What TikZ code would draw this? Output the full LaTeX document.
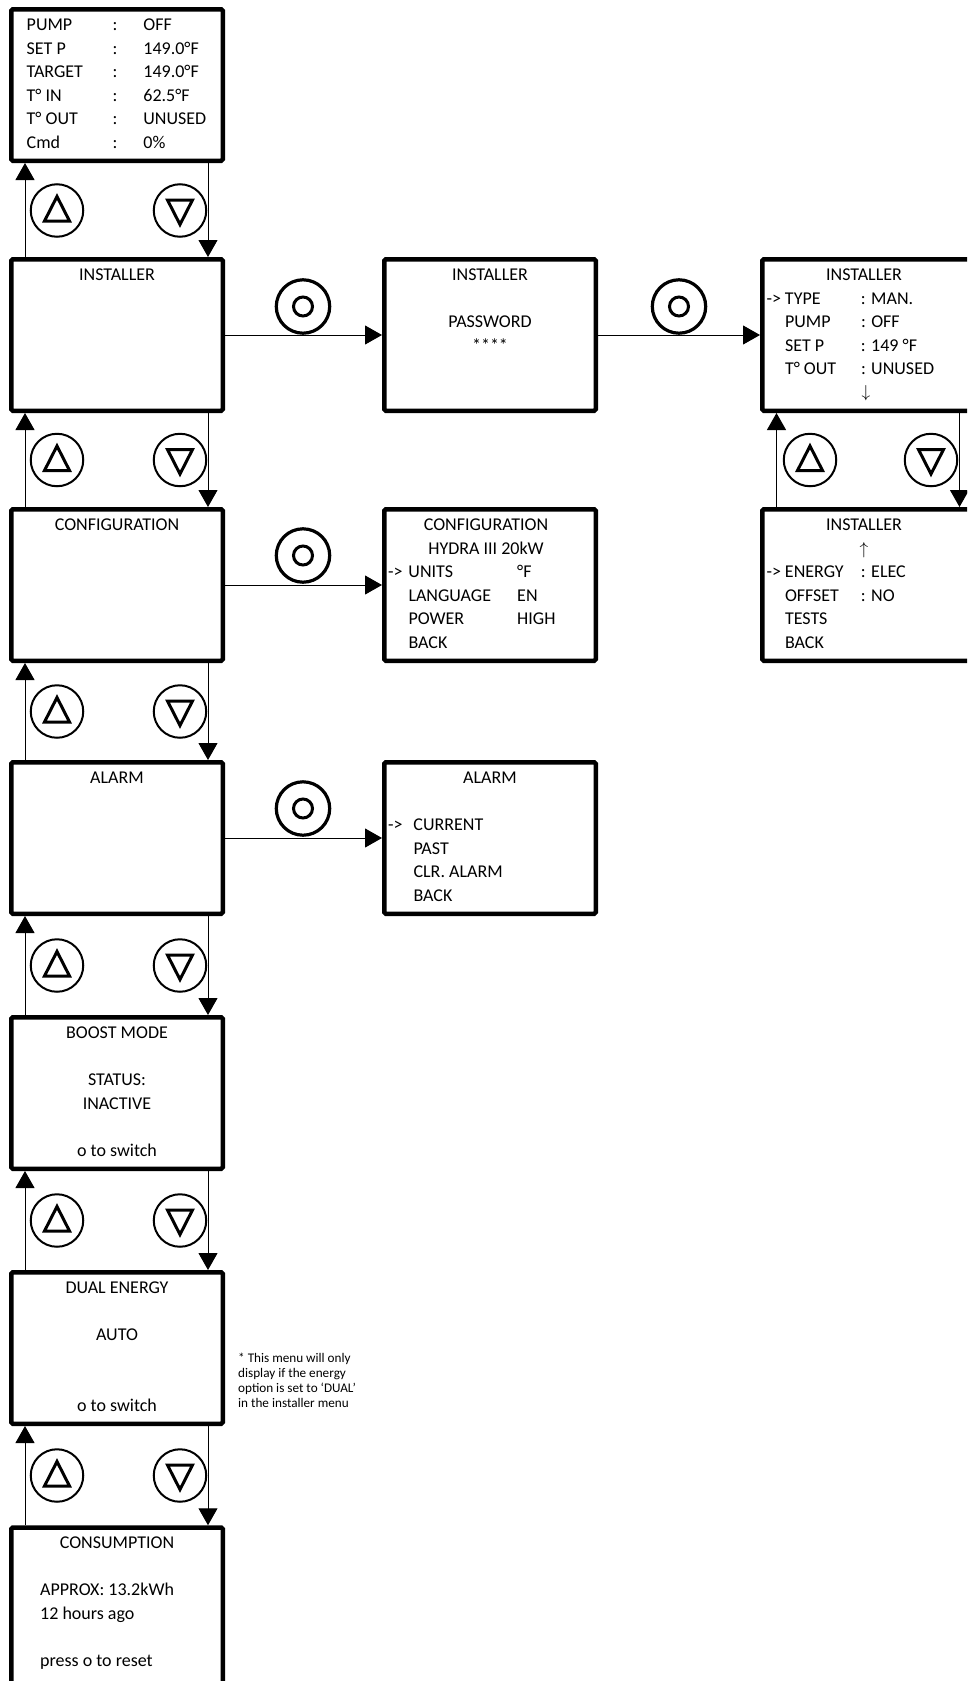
\documentclass[tikz,border=0pt]{standalone}
\usepackage{fontspec}
\setmainfont{Carlito}
\usepackage{tikz}
\usetikzlibrary{arrows.meta}

\begin{document}
\begin{tikzpicture}[
    x=1pt, y=-1pt,
    screen/.style={draw, line width=4.5pt, rounded corners=1.5pt,
                   minimum width=211.5pt, minimum height=151.5pt, inner sep=0pt},
    scrtext/.style={inner sep=0pt, anchor=base,
                    font=\fontsize{18}{23.6}\selectfont},
    notetext/.style={inner sep=0pt, anchor=base west,
                     font=\fontsize{13.2}{15}\selectfont},
    btn/.style={circle, draw, line width=2pt, minimum size=52.5pt, inner sep=0pt},
    upbtn/.style={btn, path picture={
        \draw[line width=3pt] ([yshift=14pt]path picture bounding box.center)
          -- ++(12.5pt,-24.5pt) -- ++(-25pt,0pt) -- cycle;}},
    downbtn/.style={btn, path picture={
        \draw[line width=3pt] ([yshift=-14pt]path picture bounding box.center)
          -- ++(12.5pt,24.5pt) -- ++(-25pt,0pt) -- cycle;}},
    okbtn/.style={circle, draw, line width=3.2pt, minimum size=53.4pt, inner sep=0pt,
        path picture={\draw[line width=3pt]
          (path picture bounding box.center) circle[radius=9.5pt];}},
    nav/.style={-{Triangle[length=17pt, width=19pt]}, line width=1pt},
  ]
  \useasboundingbox (0,0) rectangle (967,1681);
  \clip (0,0) rectangle (967,1681);
  % ---- main menu column ----
  \node[screen] (status) at (117,85)   {};
  \node[screen] (inst)   at (117,335)  {};
  \node[screen] (config) at (117,585)  {};
  \node[screen] (alarm)  at (117,838)  {};
  \node[screen] (boost)  at (117,1093) {};
  \node[screen] (dual)   at (117,1348) {};
  \node[screen, minimum height=165pt] (consum) at (117,1610) {};
  % ---- sub menus ----
  \node[screen] (pwd)     at (490,335) {};
  \node[screen] (cfgmenu) at (490,585) {};
  \node[screen] (almenu)  at (490,838) {};
  \node[screen] (instA)   at (868,335) {};
  \node[screen] (instB)   at (868,585) {};

  % ---- screen texts ----
  \node[scrtext, anchor=base west] (statusT)
      at ([xshift=17.5pt, yshift=-23.5pt]status.north west)
      {\begin{tabular}[t]{@{}p{86pt}@{}p{30.7pt}@{}l@{}}
        PUMP & : & OFF\\
        SET P & : & 149.0°F\\
        TARGET & : & 149.0°F\\
        T° IN & : & 62.5°F\\
        T° OUT & : & UNUSED\\
        Cmd & : & 0\%
       \end{tabular}};
  \node[scrtext] (instT) at ([yshift=-23.5pt]inst.north) {INSTALLER};
  \node[scrtext] (configT) at ([yshift=-23.5pt]config.north) {CONFIGURATION};
  \node[scrtext] (alarmT) at ([yshift=-23.5pt]alarm.north) {ALARM};
  \node[scrtext] (boostT) at ([yshift=-23.5pt]boost.north)
      {\begin{tabular}[t]{@{}c@{}}
        BOOST MODE\\ \\ STATUS:\\ INACTIVE\\ \\ o to switch
       \end{tabular}};
  \node[scrtext] (dualT) at ([yshift=-23.5pt]dual.north)
      {\begin{tabular}[t]{@{}c@{}}
        DUAL ENERGY\\ \\ AUTO\\ \\ \\ o to switch
       \end{tabular}};
  \node[scrtext] (consumT) at ([yshift=-23.5pt]consum.north) {CONSUMPTION};
  \node[scrtext, anchor=base west] (consumV)
      at ([xshift=31pt, yshift=-70.7pt]consum.north west)
      {\begin{tabular}[t]{@{}l@{}}
        APPROX: 13.2kWh\\ 12 hours ago\\ \\ press o to reset
       \end{tabular}};
  \node[scrtext] (pwdT) at ([yshift=-23.5pt]pwd.north)
      {\begin{tabular}[t]{@{}c@{}}
        INSTALLER\\ \\ PASSWORD\\ \relax ****
       \end{tabular}};
  \node[scrtext] (cfgmenuT) at ([xshift=-4pt, yshift=-23.5pt]cfgmenu.north)
      {\begin{tabular}[t]{@{}c@{}}
        CONFIGURATION\\ HYDRA III 20kW
       \end{tabular}};
  \node[scrtext, anchor=base west] (cfgmenuV)
      at ([xshift=6pt, yshift=-70.7pt]cfgmenu.north west)
      {\begin{tabular}[t]{@{}p{20.3pt}@{}p{108.7pt}@{}l@{}}
        -> & UNITS & °F\\
           & LANGUAGE & EN\\
           & POWER & HIGH\\
           & BACK &
       \end{tabular}};
  \node[scrtext] (almenuT) at ([yshift=-23.5pt]almenu.north) {ALARM};
  \node[scrtext, anchor=base west] (almenuV)
      at ([xshift=6pt, yshift=-70.7pt]almenu.north west)
      {\begin{tabular}[t]{@{}p{25.3pt}@{}l@{}}
        -> & CURRENT\\
           & PAST\\
           & CLR. ALARM\\
           & BACK
       \end{tabular}};
  \node[scrtext] (instAT) at ([xshift=-4pt, yshift=-23.5pt]instA.north) {INSTALLER};
  \node[scrtext, anchor=base west] (instAV)
      at ([xshift=6.5pt, yshift=-47.1pt]instA.north west)
      {\begin{tabular}[t]{@{}p{18.3pt}@{}p{76pt}@{}l@{}}
        -> & TYPE & : MAN.\\
           & PUMP & : OFF\\
           & SET P & : 149 °F\\
           & T° OUT & : UNUSED
       \end{tabular}};
  \node[scrtext] (instAdn) at ([xshift=-2pt, yshift=-140pt]instA.north)
      {\fontsize{16}{16}\selectfont$\downarrow$};
  \node[scrtext] (instBT) at ([xshift=-4pt, yshift=-23.5pt]instB.north)
      {\begin{tabular}[t]{@{}c@{}}
        INSTALLER\\ {\fontsize{16}{16}\selectfont$\uparrow$}
       \end{tabular}};
  \node[scrtext, anchor=base west] (instBV)
      at ([xshift=6.5pt, yshift=-70.7pt]instB.north west)
      {\begin{tabular}[t]{@{}p{18.3pt}@{}p{76pt}@{}l@{}}
        -> & ENERGY & : ELEC\\
           & OFFSET & : NO\\
           & TESTS & \\
           & BACK &
       \end{tabular}};
  \node[notetext] (note) at ([xshift=13pt, yshift=-92pt]dual.north east)
      {\begin{tabular}[t]{@{}l@{}}
        * This menu will only\\
        display if the energy\\
        option is set to ‘DUAL’\\
        in the installer menu
       \end{tabular}};

  % ---- up / down buttons ----
  \node[upbtn]   (up1) at (57,210.5)   {};
  \node[downbtn] (dn1) at (180,210.5)  {};
  \node[upbtn]   (up2) at (57,460)     {};
  \node[downbtn] (dn2) at (180,460)    {};
  \node[upbtn]   (up3) at (57,711.5)   {};
  \node[downbtn] (dn3) at (180,711.5)  {};
  \node[upbtn]   (up4) at (57,965.5)   {};
  \node[downbtn] (dn4) at (180,965.5)  {};
  \node[upbtn]   (up5) at (57,1220.5)  {};
  \node[downbtn] (dn5) at (180,1220.5) {};
  \node[upbtn]   (up6) at (57,1475.5)  {};
  \node[downbtn] (dn6) at (180,1475.5) {};
  \node[upbtn]   (up7) at (810,460)    {};
  \node[downbtn] (dn7) at (931,460)    {};
  % ---- ok buttons ----
  \node[okbtn] (ok1) at (303,306.5) {};
  \node[okbtn] (ok2) at (679,306.5) {};
  \node[okbtn] (ok3) at (303,555.5) {};
  \node[okbtn] (ok4) at (303,808.5) {};

  % ---- arrows: up / down ----
  \draw[nav] ([xshift=16pt]inst.north west) -- ([xshift=16pt]status.south west);
  \draw[nav] ([xshift=199pt]status.south west) -- ([xshift=199pt]inst.north west);
  \draw[nav] ([xshift=16pt]config.north west) -- ([xshift=16pt]inst.south west);
  \draw[nav] ([xshift=199pt]inst.south west) -- ([xshift=199pt]config.north west);
  \draw[nav] ([xshift=16pt]alarm.north west) -- ([xshift=16pt]config.south west);
  \draw[nav] ([xshift=199pt]config.south west) -- ([xshift=199pt]alarm.north west);
  \draw[nav] ([xshift=16pt]boost.north west) -- ([xshift=16pt]alarm.south west);
  \draw[nav] ([xshift=199pt]alarm.south west) -- ([xshift=199pt]boost.north west);
  \draw[nav] ([xshift=16pt]dual.north west) -- ([xshift=16pt]boost.south west);
  \draw[nav] ([xshift=199pt]boost.south west) -- ([xshift=199pt]dual.north west);
  \draw[nav] ([xshift=16pt]consum.north west) -- ([xshift=16pt]dual.south west);
  \draw[nav] ([xshift=199pt]dual.south west) -- ([xshift=199pt]consum.north west);
  \draw[nav] ([xshift=16.5pt]instB.north west) -- ([xshift=16.5pt]instA.south west);
  \draw[nav] ([xshift=199.5pt]instA.south west) -- ([xshift=199.5pt]instB.north west);
  % ---- arrows: ok ----
  \draw[nav] (inst.east) -- (pwd.west);
  \draw[nav] (pwd.east) -- (instA.west);
  \draw[nav] (config.east) -- (cfgmenu.west);
  \draw[nav] (alarm.east) -- (almenu.west);
\end{tikzpicture}
\end{document}
